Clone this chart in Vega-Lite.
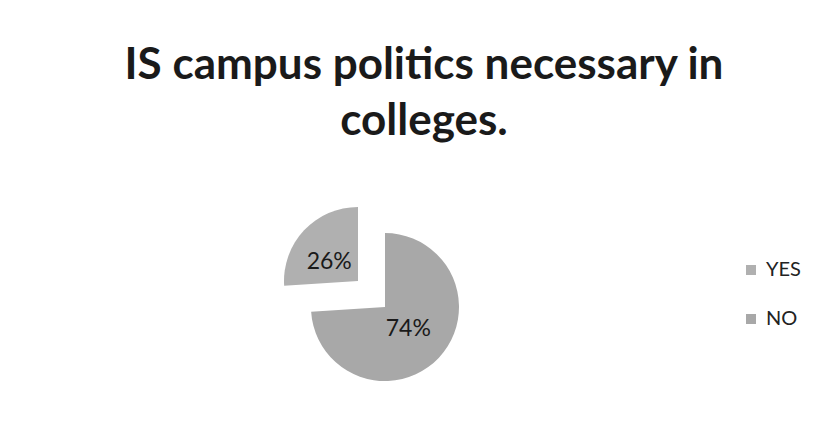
{
  "$schema": "https://vega.github.io/schema/vega-lite/v6.json",
  "width": 770,
  "height": 252,
  "autosize": {"type": "none"},
  "padding": {"left": 0, "top": 181, "right": 59, "bottom": 0},
  "background": "white",
  "config": {"view": {"stroke": null}, "font": "Lato"},
  "title": {
    "text": ["IS campus politics necessary in", "colleges."],
    "fontSize": 44,
    "font": "Lato",
    "fontWeight": "bold",
    "color": "#1a1a1a",
    "anchor": "middle",
    "dx": 39,
    "lineHeight": 56,
    "offset": 37
  },
  "data": {
    "values": [
      {"answer": "NO", "value": 74, "order": 1},
      {"answer": "YES", "value": 26, "order": 2}
    ]
  },
  "transform": [
    {"stack": "value", "groupby": [], "sort": [{"field": "order"}], "as": ["start", "end"]},
    {"calculate": "(datum.start + datum.end) / 2", "as": "mid"},
    {"calculate": "datum.value + '%'", "as": "label"}
  ],
  "layer": [
    {
      "transform": [{"filter": "datum.answer === 'NO'"}],
      "mark": {"type": "arc", "radius": 74},
      "encoding": {
        "theta": {"field": "start", "type": "quantitative", "scale": {"domain": [0, 100]}},
        "theta2": {"field": "end"},
        "color": {
          "field": "answer",
          "type": "nominal",
          "scale": {"domain": ["YES", "NO"], "range": ["#b0b0b0", "#a8a8a8"]},
          "legend": {
            "title": null,
            "orient": "none",
            "legendX": 741,
            "legendY": 79,
            "symbolType": "square",
            "symbolSize": 100,
            "symbolStrokeWidth": 0,
            "labelFontSize": 20,
            "labelColor": "#222222",
            "labelFont": "Lato",
            "rowPadding": 29,
            "labelOffset": 5
          }
        }
      }
    },
    {
      "transform": [{"filter": "datum.answer === 'YES'"}],
      "mark": {"type": "arc", "radius": 74, "xOffset": -27, "yOffset": -26},
      "encoding": {
        "theta": {"field": "start", "type": "quantitative", "scale": {"domain": [0, 100]}},
        "theta2": {"field": "end"},
        "color": {"field": "answer", "type": "nominal"}
      }
    },
    {
      "transform": [{"filter": "datum.answer === 'NO'"}],
      "mark": {"type": "text", "radius": 32, "fontSize": 23, "color": "#1a1a1a", "font": "Lato"},
      "encoding": {
        "theta": {"field": "mid", "type": "quantitative", "scale": {"domain": [0, 100]}},
        "text": {"field": "label"}
      }
    },
    {
      "transform": [{"filter": "datum.answer === 'YES'"}],
      "mark": {"type": "text", "radius": 34, "fontSize": 23, "color": "#1a1a1a", "font": "Lato", "xOffset": -31, "yOffset": -22},
      "encoding": {
        "theta": {"field": "mid", "type": "quantitative", "scale": {"domain": [0, 100]}},
        "text": {"field": "label"}
      }
    }
  ]
}
